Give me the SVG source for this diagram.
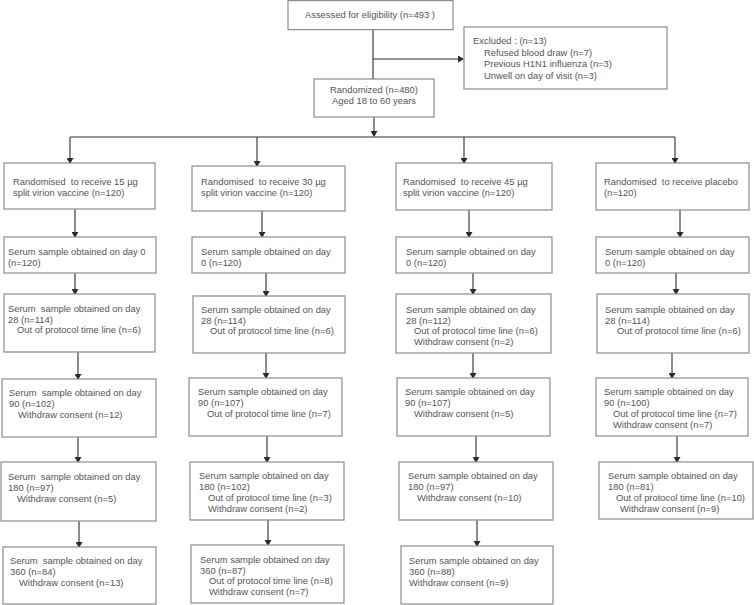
<svg xmlns="http://www.w3.org/2000/svg" width="754" height="605" viewBox="0 0 754 605">
<defs>
<marker id="ah" markerUnits="userSpaceOnUse" markerWidth="6" markerHeight="7" refX="5" refY="3.5" orient="auto">
<path d="M0,0 L6,3.5 L0,7 Z" fill="#2a2a2a"/>
</marker>
<style>
rect{fill:#fff;stroke:#8c8c8c;stroke-width:1.2}
text{font-family:"Liberation Sans",Arial,sans-serif;font-size:9.4px;fill:#555;white-space:pre}
.c{text-anchor:middle}
#connectors path{fill:none;stroke:#2f2f2f;stroke-width:1.1}
.a{marker-end:url(#ah)}
</style>
</defs>
<rect x="0" y="0" width="754" height="605" style="fill:#fff;stroke:none"/>

<g id="connectors">
<path d="M373,30 V79"/>
<path class="a" d="M373,59 H463"/>
<path class="a" d="M374,117 V136"/>
<path d="M70,137 H675"/>
<path class="a" d="M70,137 V163"/>
<path class="a" d="M257,137 V166"/>
<path class="a" d="M464,137 V163"/>
<path class="a" d="M675,137 V163"/>
<!-- col1 -->
<path class="a" d="M75,209 V237"/>
<path class="a" d="M75,273 V294"/>
<path class="a" d="M78,352 V379"/>
<path class="a" d="M78,437 V462"/>
<path class="a" d="M79,521 V547"/>
<!-- col2 -->
<path class="a" d="M262,211 V237"/>
<path class="a" d="M266,273 V296"/>
<path class="a" d="M266,353 V378"/>
<path class="a" d="M267,436 V462"/>
<path class="a" d="M268,520 V545"/>
<!-- col3 -->
<path class="a" d="M469,210 V237"/>
<path class="a" d="M473,273 V294"/>
<path class="a" d="M473,353 V378"/>
<path class="a" d="M476,436 V462"/>
<path class="a" d="M477,520 V546"/>
<!-- col4 -->
<path class="a" d="M680,210 V237"/>
<path class="a" d="M676,273 V294"/>
<path class="a" d="M672,353 V378"/>
<path class="a" d="M677,436 V462"/>
</g>

<g id="assessed">
<rect x="288" y="0.6" width="165" height="29"/>
<text class="c" x="370" y="18">Assessed for eligibility (n=493 )</text>
</g>
<g id="excluded">
<rect x="464" y="27" width="203" height="62"/>
<text x="473" y="44">Excluded : (n=13)</text>
<text x="484" y="56">Refused blood draw (n=7)</text>
<text x="484" y="67">Previous H1N1 influenza (n=3)</text>
<text x="484" y="79">Unwell on day of visit (n=3)</text>
</g>
<g id="randomized">
<rect x="314" y="79" width="120" height="38"/>
<text class="c" x="374" y="93">Randomized (n=480)</text>
<text class="c" x="374" y="104">Aged 18 to 60 years</text>
</g>

<!-- Column 1 -->
<g id="c1r">
<rect x="4" y="163" width="151" height="46"/>
<text x="13" y="184.5">Randomised  to receive 15 µg</text>
<text x="13" y="195.5">split virion vaccine (n=120)</text>
</g>
<g id="c1d0">
<rect x="4" y="237" width="152" height="36"/>
<text x="8" y="254.5">Serum sample obtained on day 0</text>
<text x="8" y="265.5">(n=120)</text>
</g>
<g id="c1d28">
<rect x="4" y="294" width="151" height="58"/>
<text x="8" y="311.5">Serum  sample obtained on day</text>
<text x="8" y="322.5">28 (n=114)</text>
<text x="17" y="333.3">Out of protocol time line (n=6)</text>
</g>
<g id="c1d90">
<rect x="2" y="379" width="154" height="58"/>
<text x="9" y="395.5">Serum  sample obtained on day</text>
<text x="9" y="406.5">90 (n=102)</text>
<text x="18" y="417.5">Withdraw consent (n=12)</text>
</g>
<g id="c1d180">
<rect x="1" y="462" width="155" height="59"/>
<text x="8" y="479.5">Serum  sample obtained on day</text>
<text x="8" y="490.5">180 (n=97)</text>
<text x="17" y="501.5">Withdraw consent (n=5)</text>
</g>
<g id="c1d360">
<rect x="3" y="547" width="153" height="57"/>
<text x="10" y="563.5">Serum  sample obtained on day</text>
<text x="10" y="574.5">360 (n=84)</text>
<text x="19" y="585.5">Withdraw consent (n=13)</text>
</g>

<!-- Column 2 -->
<g id="c2r">
<rect x="192" y="166" width="153" height="45"/>
<text x="201" y="184.5">Randomised  to receive 30 µg</text>
<text x="201" y="195.5">split virion vaccine (n=120)</text>
</g>
<g id="c2d0">
<rect x="192" y="237" width="153" height="36"/>
<text x="201" y="254.5">Serum sample obtained on day</text>
<text x="201" y="265.5">0 (n=120)</text>
</g>
<g id="c2d28">
<rect x="193" y="296" width="152" height="57"/>
<text x="201" y="312.5">Serum sample obtained on day</text>
<text x="201" y="323.5">28 (n=114)</text>
<text x="210" y="334.3">Out of protocol time line (n=6)</text>
</g>
<g id="c2d90">
<rect x="189" y="378" width="153" height="58"/>
<text x="198" y="395">Serum sample obtained on day</text>
<text x="198" y="406">90 (n=107)</text>
<text x="207" y="417">Out of protocol time line (n=7)</text>
</g>
<g id="c2d180">
<rect x="190" y="462" width="154" height="58"/>
<text x="199" y="479">Serum sample obtained on day</text>
<text x="199" y="490">180 (n=102)</text>
<text x="208" y="500.8">Out of protocol time line (n=3)</text>
<text x="208" y="511.8">Withdraw consent (n=2)</text>
</g>
<g id="c2d360">
<rect x="191" y="545" width="153" height="58"/>
<text x="200" y="562.5">Serum sample obtained on day</text>
<text x="200" y="573.5">360 (n=87)</text>
<text x="209" y="584.3">Out of protocol time line (n=8)</text>
<text x="209" y="595.3">Withdraw consent (n=7)</text>
</g>

<!-- Column 3 -->
<g id="c3r">
<rect x="396" y="163" width="156" height="47"/>
<text x="403" y="184.5">Randomised  to receive 45 µg</text>
<text x="403" y="195.5">split virion vaccine (n=120)</text>
</g>
<g id="c3d0">
<rect x="396" y="237" width="156" height="36"/>
<text x="406" y="254.5">Serum sample obtained on day</text>
<text x="406" y="265.5">0 (n=120)</text>
</g>
<g id="c3d28">
<rect x="396" y="294" width="155" height="59"/>
<text x="406" y="312.5">Serum sample obtained on day</text>
<text x="406" y="323.5">28 (n=112)</text>
<text x="414" y="334.3">Out of protocol time line (n=6)</text>
<text x="414" y="345.3">Withdraw consent (n=2)</text>
</g>
<g id="c3d90">
<rect x="397" y="378" width="153" height="58"/>
<text x="405" y="395">Serum sample obtained on day</text>
<text x="405" y="406">90 (n=107)</text>
<text x="414" y="417">Withdraw consent (n=5)</text>
</g>
<g id="c3d180">
<rect x="399" y="462" width="154" height="58"/>
<text x="408" y="479">Serum sample obtained on day</text>
<text x="408" y="490">180 (n=97)</text>
<text x="417" y="501">Withdraw consent (n=10)</text>
</g>
<g id="c3d360">
<rect x="401" y="546" width="152" height="58"/>
<text x="409" y="563.5">Serum sample obtained on day</text>
<text x="409" y="574.5">360 (n=88)</text>
<text x="409" y="585.5">Withdraw consent (n=9)</text>
</g>

<!-- Column 4 -->
<g id="c4r">
<rect x="596" y="163" width="153" height="47"/>
<text x="604" y="184.5">Randomised  to receive placebo</text>
<text x="604" y="195.5">(n=120)</text>
</g>
<g id="c4d0">
<rect x="596" y="237" width="153" height="36"/>
<text x="605" y="254.5">Serum sample obtained on day</text>
<text x="605" y="265.5">0 (n=120)</text>
</g>
<g id="c4d28">
<rect x="597" y="294" width="152" height="59"/>
<text x="605" y="312.5">Serum sample obtained on day</text>
<text x="605" y="323.5">28 (n=114)</text>
<text x="617" y="334.3">Out of protocol time line (n=6)</text>
</g>
<g id="c4d90">
<rect x="596" y="378" width="152" height="58"/>
<text x="604" y="395">Serum sample obtained on day</text>
<text x="604" y="406">90 (n=100)</text>
<text x="613" y="416.8">Out of protocol time line (n=7)</text>
<text x="613" y="427.8">Withdraw consent (n=7)</text>
</g>
<g id="c4d180">
<rect x="599" y="462" width="154" height="57"/>
<text x="608" y="479">Serum sample obtained on day</text>
<text x="608" y="490">180 (n=81)</text>
<text x="616" y="500.8">Out of protocol time line (n=10)</text>
<text x="620" y="511.8">Withdraw consent (n=9)</text>
</g>
</svg>
